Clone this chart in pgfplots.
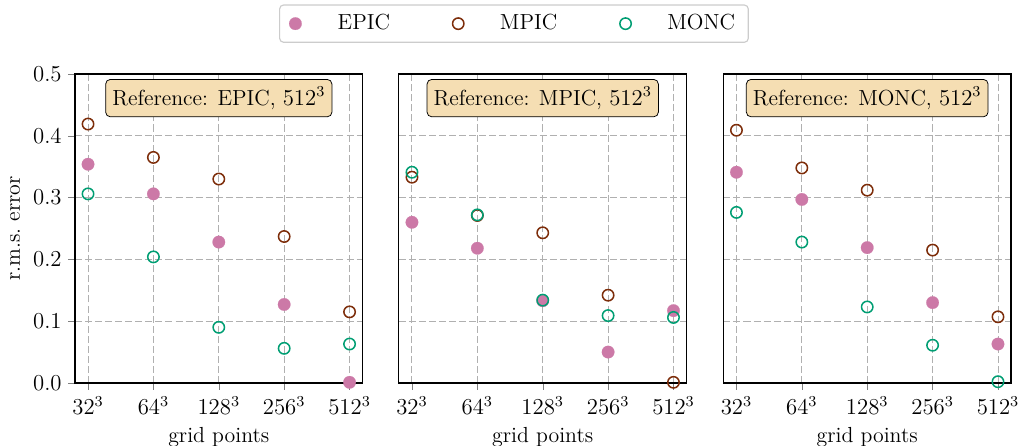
\documentclass[border=0pt]{standalone}
\usepackage{pgfplots}
\pgfplotsset{compat=1.18}
\usetikzlibrary{calc}
\definecolor{cepic}{HTML}{CC79A7}
\definecolor{cmpic}{HTML}{7D2D0A}
\definecolor{cmonc}{HTML}{009E73}
\definecolor{cgrid}{HTML}{B0B0B0}
\definecolor{cwheat}{HTML}{F5DEB3}
\definecolor{clegend}{HTML}{CCCCCC}

\pgfplotstableread{
x  epic  mpic  monc
0  0.354 0.419 0.306
1  0.306 0.365 0.204
2  0.228 0.330 0.090
3  0.127 0.237 0.056
4  0.001 0.115 0.063
}\tabA
\pgfplotstableread{
x  epic  mpic  monc
0  0.260 0.333 0.341
1  0.218 0.271 0.272
2  0.133 0.243 0.134
3  0.050 0.142 0.109
4  0.117 0.001 0.106
}\tabB
\pgfplotstableread{
x  epic  mpic  monc
0  0.341 0.409 0.276
1  0.297 0.348 0.228
2  0.219 0.312 0.123
3  0.130 0.215 0.061
4  0.063 0.107 0.002
}\tabC

\newcommand{\fs}{\fontsize{11.5}{14}\selectfont}
\tikzset{refbox/.style={fill=cwheat, draw=black, line width=0.4pt, rounded corners=2.5pt, inner xsep=3.5pt, inner ysep=4pt, font=\fs}}
\pgfplotsset{
  panel/.style={
    scale only axis,
    width=151.6pt, height=162.8pt,
    xmin=-0.2, xmax=4.2, ymin=0, ymax=0.5,
    xtick={0,1,2,3,4},
    xticklabels={$32^3$,$64^3$,$128^3$,$256^3$,$512^3$},
    ytick={0,0.1,0.2,0.3,0.4,0.5},
    yticklabel style={/pgf/number format/.cd, fixed, fixed zerofill, precision=1},
    tick label style={font=\fs},
    label style={font=\fs},
    tick align=outside,
    xtick pos=bottom, ytick pos=left,
    major tick length=3.5pt,
    grid=major,
    major grid style={cgrid, dash pattern=on 3.7pt off 1.6pt, line width=0.5pt},
    axis line style={line width=0.6pt},
    axis on top,
    xlabel={grid points},
    clip=false,
  },
  sepic/.style={only marks, mark=*, mark size=3.3pt, mark options={fill=cepic, draw=cepic, line width=0.1pt}},
  smpic/.style={only marks, mark=o, mark size=3.0pt, mark options={draw=cmpic, line width=0.8pt}},
  smonc/.style={only marks, mark=o, mark size=3.0pt, mark options={draw=cmonc, line width=0.8pt}},
}

\begin{document}
\begin{tikzpicture}
\begin{axis}[panel, name=p1, at={(0pt,0pt)}, anchor=south west, ylabel={r.m.s.\ error}]
\addplot[sepic] table[x=x, y=epic] {\tabA};
\addplot[smpic] table[x=x, y=mpic] {\tabA};
\addplot[smonc] table[x=x, y=monc] {\tabA};
\end{axis}
\node[refbox] at ([yshift=-12.7pt]p1.north) {Reference: EPIC, $512^3$};

\begin{axis}[panel, name=p2, at={(170.7pt,0pt)}, anchor=south west,
  yticklabels={}, ytick style={draw=none},
  legend columns=3,
  legend style={at={(0.40,1.163)}, anchor=center, draw=clegend, line width=0.6pt, rounded corners=2pt,
    inner xsep=5pt, inner ysep=3pt, font=\fs,
    /tikz/every odd column/.append style={column sep=17pt},
    /tikz/every even column/.append style={column sep=31pt}},
]
\addplot[sepic] table[x=x, y=epic] {\tabB};
\addlegendentry{EPIC}
\addplot[smpic] table[x=x, y=mpic] {\tabB};
\addlegendentry{MPIC}
\addplot[smonc] table[x=x, y=monc] {\tabB};
\addlegendentry{MONC}
\end{axis}
\node[refbox] at ([yshift=-12.7pt]p2.north) {Reference: MPIC, $512^3$};

\begin{axis}[panel, name=p3, at={(341.7pt,0pt)}, anchor=south west,
  yticklabels={}, ytick style={draw=none}]
\addplot[sepic] table[x=x, y=epic] {\tabC};
\addplot[smpic] table[x=x, y=mpic] {\tabC};
\addplot[smonc] table[x=x, y=monc] {\tabC};
\end{axis}
\node[refbox] at ([yshift=-12.7pt]p3.north) {Reference: MONC, $512^3$};

\pgfresetboundingbox
\path[use as bounding box] (-39.5pt,-33.2pt) rectangle (501.7pt,201.8pt);
\end{tikzpicture}
\end{document}
